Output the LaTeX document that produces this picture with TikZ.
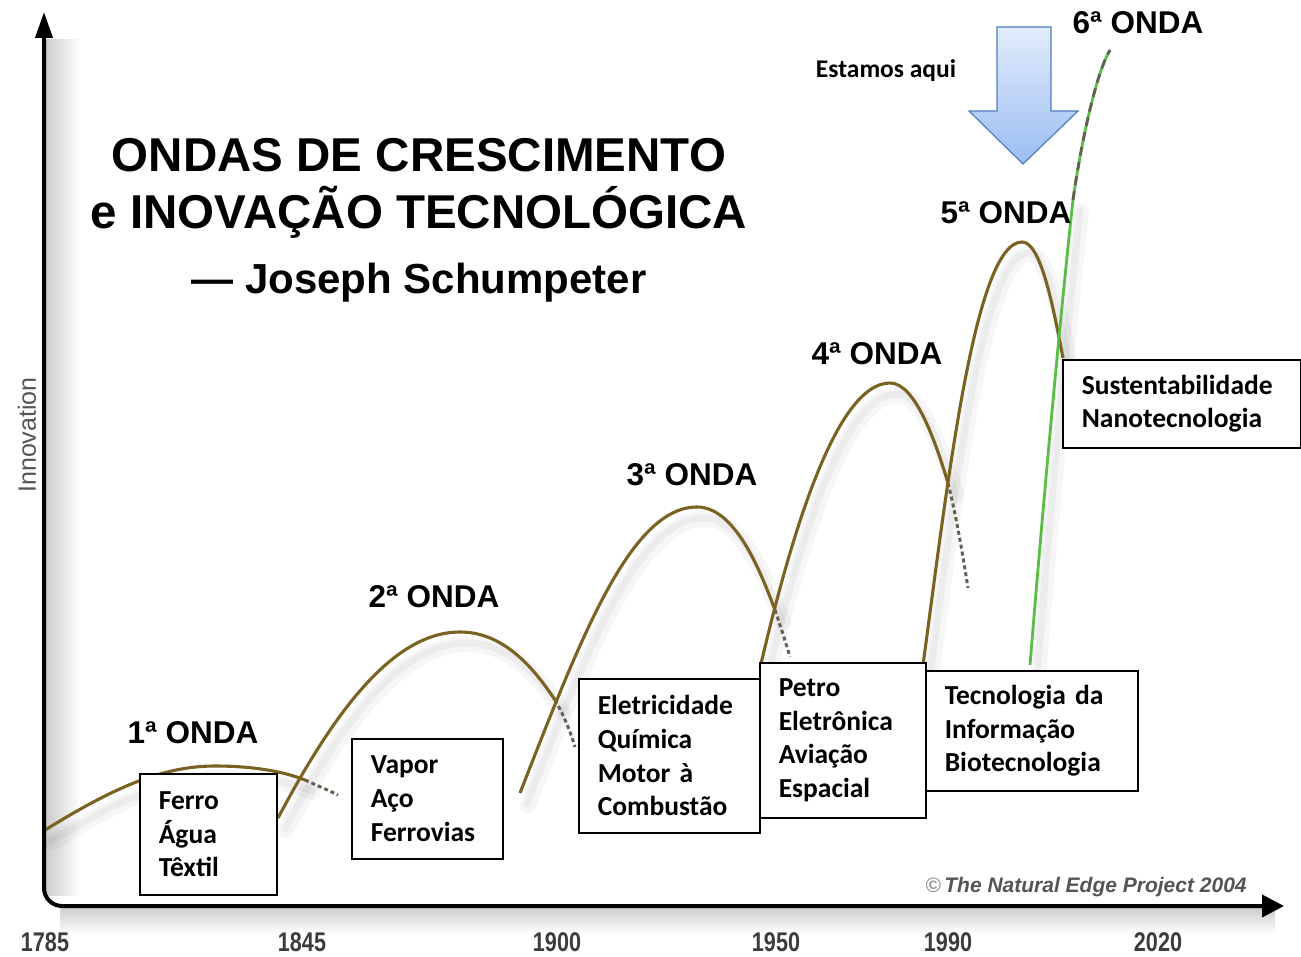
\documentclass[tikz,border=0pt]{standalone}
\usepackage{fontspec}
\setmainfont{Liberation Sans}
\newfontfamily\calibfont{Carlito}
\usetikzlibrary{arrows.meta}
\definecolor{wavebrown}{RGB}{122,98,34}
\definecolor{wavegreen}{RGB}{88,190,70}
\definecolor{dashgray}{RGB}{100,96,82}
\definecolor{yeargray}{RGB}{60,60,60}
\definecolor{softgray}{RGB}{85,85,85}
\definecolor{arrowtop}{RGB}{226,236,252}
\definecolor{arrowbot}{RGB}{155,189,242}
\definecolor{arrowline}{RGB}{80,125,190}
\tikzset{
  wave/.style={draw=wavebrown, line width=3.1pt},
  wdash/.style={draw=dashgray, line width=3pt, dash pattern=on 4pt off 3pt},
  wshade/.style={draw=black, line width=16pt, opacity=0.035, line cap=round},
  wshadein/.style={draw=black, line width=7pt, opacity=0.04, line cap=round},
  tbox/.style={draw=black, fill=white, line width=1.6pt, anchor=north west, align=left,
    inner xsep=19pt, inner ysep=0pt,
    font=\calibfont\bfseries\fontsize{27.5}{33.7}\selectfont},
  onda/.style={font=\bfseries\fontsize{31.5}{36}\selectfont},
  titl/.style={font=\bfseries\fontsize{47.5}{52}\selectfont},
  yearlab/.style={font=\bfseries\fontsize{27}{30}\selectfont, text=yeargray, xscale=0.8, transform shape},
}
\newcommand\wOne{(45,830) .. controls (110,790) and (160,766) .. (215,766) .. controls (255,766) and (285,772) .. (305,780)}
\newcommand\wOneD{(305,780) .. controls (318,786) and (328,790) .. (338,795)}
\newcommand\wTwo{(278,818) .. controls (330,720) and (390,632) .. (460,632) .. controls (505,632) and (535,670) .. (555,700)}
\newcommand\wTwoD{(555,700) .. controls (563,714) and (570,730) .. (575,747)}
\newcommand\wThree{(520,793) .. controls (580,640) and (630,507) .. (697,507) .. controls (735,507) and (760,570) .. (775,610)}
\newcommand\wThreeD{(775,610) .. controls (780,625) and (785,640) .. (790,657)}
\newcommand\wFour{(760,668) .. controls (790,540) and (835,383) .. (890,383) .. controls (915,383) and (935,440) .. (948,483)}
\newcommand\wFourD{(948,483) .. controls (956,515) and (962,550) .. (968,588)}
\newcommand\wFive{(923,665) .. controls (948,480) and (975,242) .. (1022,242) .. controls (1040,242) and (1052,300) .. (1063,358)}
\newcommand\wSixA{(1030,665) .. controls (1045,480) and (1062,300) .. (1073,200)}
\newcommand\wSixB{(1073,200) .. controls (1080,150) and (1095,75) .. (1110,50)}
\begin{document}
\begin{tikzpicture}[x=1pt,y=-1pt]
\useasboundingbox (0,0) rectangle (1301,957);
\fill[white] (0,0) rectangle (1301,957);
% axis shadows
\shade[left color=black!20, right color=white] (46,40) rectangle (80,895);
\shade[top color=black!20, bottom color=white] (60,907) rectangle (1275,934);
% wave shadows
\foreach \p in {\wOne,\wTwo,\wThree,\wFour,\wFive,\wSixA}{
  \draw[wshade, shift={(8,12)}] \p;
  \draw[wshadein, shift={(7,11)}] \p;
}
% waves
\draw[wave] \wOne;
\draw[wdash] \wOneD;
\draw[wave] \wTwo;
\draw[wdash] \wTwoD;
\draw[wave] \wThree;
\draw[wdash] \wThreeD;
\draw[wave] \wFour;
\draw[wdash] \wFourD;
\draw[wave] \wFive;
\draw[draw=wavegreen, line width=2.8pt] \wSixA;
\draw[draw=wavegreen, line width=2.8pt] \wSixB;
\draw[draw=dashgray, line width=2.8pt, dash pattern=on 9pt off 6pt] \wSixB;
% axes
\draw[line width=4pt, rounded corners=18pt, {Triangle[length=26pt,width=17pt]}-{Triangle[length=22pt,width=22pt]}]
  (44,12) -- (44,906) -- (1284,906);
% title
\node[titl] (t1) at (419,155) {ONDAS DE CRESCIMENTO};
\node[titl] (t2) at (419,212) {e INOVAÇÃO TECNOLÓGICA};
\node[font=\bfseries\fontsize{42}{46}\selectfont] (t3) at (419,283) {— Joseph Schumpeter};
% axis labels
\node[font=\fontsize{25}{28}\selectfont, text=softgray, rotate=90] (inn) at (27,435) {Innovation};
\node[font=\bfseries\itshape\fontsize{21}{24}\selectfont, text=softgray] (copy) at (1086,887) {{\color{black!40}©}\,The Natural Edge Project 2004};
\node[yearlab] (y1) at (45,942) {1785};
\node[yearlab] (y2) at (302,942) {1845};
\node[yearlab] (y3) at (557,942) {1900};
\node[yearlab] (y4) at (776,942) {1950};
\node[yearlab] (y5) at (948,942) {1990};
\node[yearlab] (y6) at (1158,942) {2020};
% wave labels
\node[onda] (o1) at (193,733) {1ª ONDA};
\node[onda] (o2) at (434,597) {2ª ONDA};
\node[onda] (o3) at (692,475) {3ª ONDA};
\node[onda] (o4) at (877,354) {4ª ONDA};
\node[onda] (o5) at (1006,213) {5ª ONDA};
\node[onda] (o6) at (1138,23) {6ª ONDA};
% text boxes
\node[tbox, text width=99pt, minimum height=121pt] (b1) at (139,773) {Ferro\\Água\\Têxtil};
\node[tbox, text width=113pt, minimum height=120pt] (b2) at (351,738) {Vapor\\Aço\\Ferrovias};
\node[tbox, text width=143pt, minimum height=154pt] (b3) at (578,678) {Eletricidade\\Química\\Motor à\\Combustão};
\node[tbox, text width=128pt, minimum height=155pt] (b4) at (759,662) {Petro\\Eletrônica\\Aviação\\Espacial};
\node[tbox, text width=174pt, minimum height=120pt] (b5) at (925,670) {Tecnologia da\\Informação\\Biotecnologia};
\node[tbox, text width=200pt, minimum height=88pt] (b6) at (1062,359) {Sustentabilidade\\Nanotecnologia};
% "Estamos aqui" arrow
\path[draw=arrowline, line width=1.2pt, top color=arrowtop, bottom color=arrowbot]
  (997,27) -- (1051,27) -- (1051,111) -- (1078,111) -- (1023,164) -- (969,111) -- (997,111) -- cycle;
\node[font=\calibfont\bfseries\fontsize{25.5}{30}\selectfont] (aqui) at (886,71) {Estamos aqui};
\end{tikzpicture}
\end{document}
